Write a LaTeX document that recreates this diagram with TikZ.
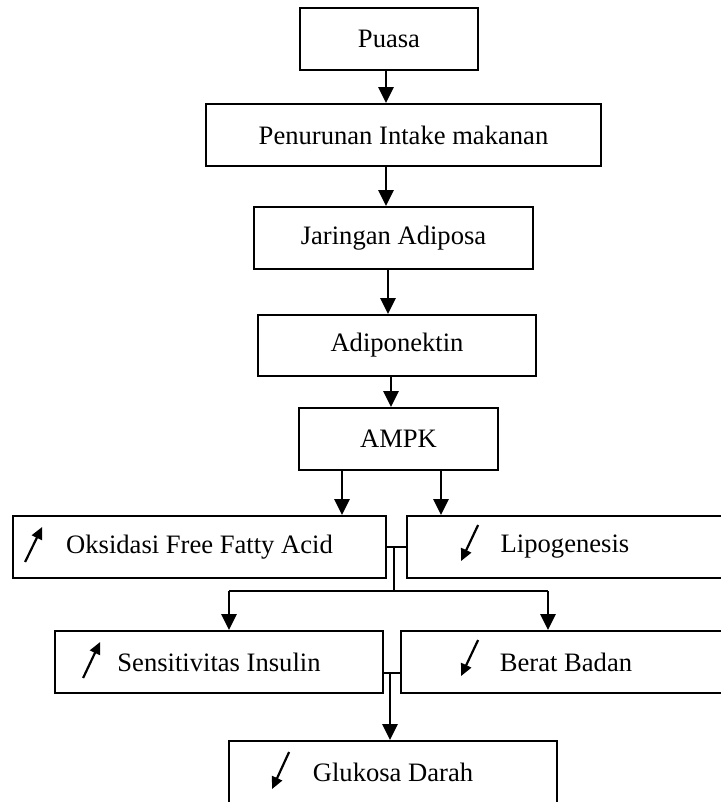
\documentclass[tikz,border=0pt]{standalone}
\usepackage{fontspec}
\setmainfont{Liberation Serif}
\usepackage{tikz}
\usetikzlibrary{arrows.meta, calc, positioning}

\tikzset{
  kotak/.style={draw, line width=0.9pt, rectangle, minimum height=31pt, inner sep=0pt, font=\fontsize{13.3}{16}\selectfont},
  panah/.style={line width=1.4pt, -{Triangle[length=8pt,width=7.5pt]}},
  garis/.style={line width=0.8pt},
  ikon/.style={line width=1.1pt, -{Triangle[length=6pt,width=5.5pt]}}
}

\begin{document}
\begin{tikzpicture}[x=0.5pt, y=-0.5pt]
    \useasboundingbox (0,0) rectangle (720,802);
    % alur utama
    \node[kotak, minimum width=89pt] (puasa) at (389,39) {Puasa};
    \node[kotak, minimum width=197.5pt] (turun) at (403.5,135) {Penurunan Intake makanan};
    \node[kotak, minimum width=139.5pt] (jaringan) at (393.5,238) {Jaringan Adiposa};
    \node[kotak, minimum width=139pt, minimum height=30.5pt] (adipo) at (397,345.5) {Adiponektin};
    \node[kotak, minimum width=99.5pt] (ampk) at (398.5,439) {AMPK};
    
    % efek
    \node[kotak, minimum width=186.5pt] (oks) at (199.5,547) {Oksidasi Free Fatty Acid};
    \node[kotak, minimum width=158pt] (lipo) at (565,547) {Lipogenesis};
    \node[kotak, minimum width=164pt] (sens) at (219,662) {Sensitivitas Insulin};
    \node[kotak, minimum width=165pt] (berat) at (566,662) {Berat Badan};
    \node[kotak, minimum width=164pt] (gluk) at (393,772) {Glukosa Darah};
    
    % panah ke bawah
    \foreach \a/\b/\s in {puasa/turun/-1.5, turun/jaringan/-8.75, jaringan/adipo/-2.75, adipo/ampk/-3} {
        \draw[panah] ([xshift=\s pt]\a.south) -- ([xshift=\s pt]\a.south |- \b.north);
    }
    \draw[panah] ([xshift=-28.25pt]ampk.south) -- ([xshift=-28.25pt]ampk.south |- oks.north);
    \draw[panah] ([xshift=21.25pt]ampk.south) -- ([xshift=21.25pt]ampk.south |- lipo.north);
    
    % percabangan
    \coordinate (j1) at (394,547);
    \coordinate (j2) at (394,591);
    \coordinate (kiri) at (229,591);
    \coordinate (kanan) at (548,591);
    \coordinate (j3) at (390,673);
    \draw[garis] (oks.east) -- (lipo.west);
    \draw[garis] (j1) -- (j2);
    \draw[panah, -] (kiri) -- (kanan);
    \draw[panah] (kiri) -- (kiri |- sens.north);
    \draw[panah] (kanan) -- (kanan |- berat.north);
    \draw[garis] ([yshift=-5.5pt]sens.east) -- ([yshift=-5.5pt]berat.west);
    \draw[panah] (j3) -- (j3 |- gluk.north);
    
    % ikon naik / turun
    \draw[ikon] ($(oks.west)+(13,15)$) -- ++(17,-35);
    \draw[ikon] ($(sens.west)+(29,16)$) -- ++(17,-36);
    \draw[ikon] ($(lipo.west)+(72,-22)$) -- ++(-17,36);
    \draw[ikon] ($(berat.west)+(78,-22)$) -- ++(-17,36);
    \draw[ikon] ($(gluk.west)+(61,-20)$) -- ++(-17,37);
\end{tikzpicture}
\end{document}
